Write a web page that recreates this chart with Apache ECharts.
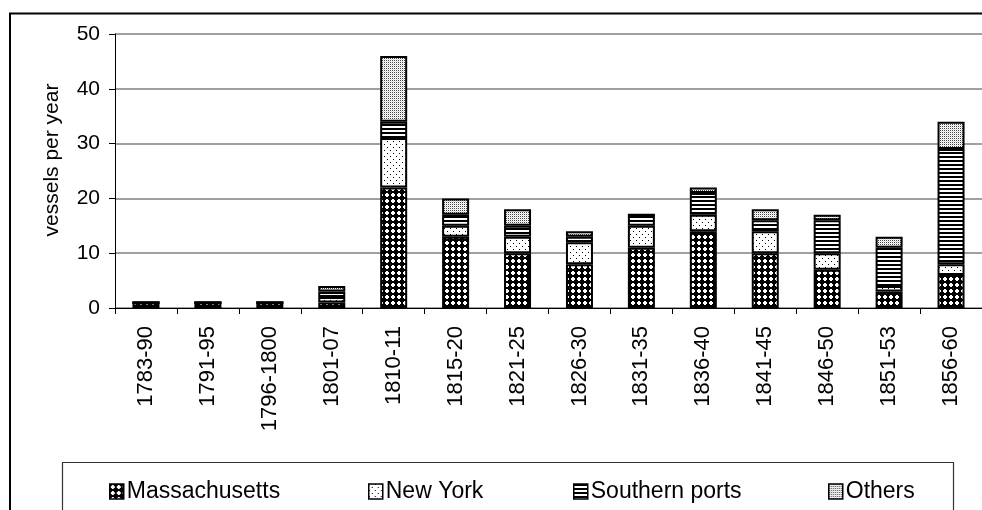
<!DOCTYPE html>
<html>
<head>
<meta charset="utf-8">
<script src="https://cdn.jsdelivr.net/npm/echarts@6/dist/echarts.min.js"></script>
<style>
  html, body { margin: 0; padding: 0; background: #fff; }
  #chart { width: 982px; height: 510px; }
</style>
</head>
<body>
<div id="chart"></div>
<script>
// Vessels per year by home port, grouped by period
const periods = ['1783-90', '1791-95', '1796-1800', '1801-07', '1810-11', '1815-20', '1821-25',
                 '1826-30', '1831-35', '1836-40', '1841-45', '1846-50', '1851-53', '1856-60'];
const massachusetts = [1, 1, 1, 1, 22, 13, 10, 8, 11, 14, 10, 7, 3, 6];
const newYork       = [0, 0, 0, 1, 9, 2, 3, 4, 4, 3, 4, 3, 1, 2];
const southernPorts = [0, 0, 0, 1, 3, 2, 2, 1, 2, 4, 2, 6, 7, 21];
const others        = [0, 0, 0, 1, 12, 3, 3, 1, 0, 1, 2, 1, 2, 5];
const seriesNames = ['Massachusetts', 'New York', 'Southern ports', 'Others'];
const yTicks = [0, 10, 20, 30, 40, 50];

const FONT = 'Liberation Sans, Arial, sans-serif';

// Small repeating canvas tiles used as monochrome hatch fills
function tile(w, h, draw) {
  const c = document.createElement('canvas');
  c.width = w; c.height = h;
  const g = c.getContext('2d');
  g.fillStyle = '#fff';
  g.fillRect(0, 0, w, h);
  draw(g);
  return { image: c, repeat: 'repeat' };
}
const fills = [
  // dark lattice with white spots
  tile(6, 6, g => {
    g.fillStyle = '#000'; g.fillRect(0, 0, 6, 6);
    g.fillStyle = '#fff'; g.fillRect(2, 1, 2, 4); g.fillRect(1, 2, 4, 2);
  }),
  // sparse dots
  tile(6, 6, g => {
    g.fillStyle = '#000'; g.fillRect(0, 0, 1, 1); g.fillRect(3, 3, 1, 1);
  }),
  // horizontal stripes
  tile(4, 4, g => {
    g.fillStyle = '#000'; g.fillRect(0, 0, 4, 2);
  }),
  // fine light-grey stipple
  tile(2, 2, g => {
    g.fillStyle = '#444'; g.fillRect(0, 0, 1, 1);
    g.fillStyle = '#ddd'; g.fillRect(1, 1, 1, 1);
  })
];

const values = [massachusetts, newYork, southernPorts, others];
const legendLeft = [104, 363, 568, 823];

const chart = echarts.init(document.getElementById('chart'), null, { renderer: 'canvas' });
chart.setOption({
  animation: false,
  backgroundColor: '#fff',
  grid: { left: 115, top: 34, width: 882, height: 274, containLabel: false },
  xAxis: {
    type: 'category',
    data: periods,
    axisLine: { lineStyle: { color: '#000', width: 1 } },
    axisTick: { show: true, length: 6, lineStyle: { color: '#000' } },
    axisLabel: { interval: 0, rotate: 90, margin: 18, fontSize: 22, fontFamily: FONT, color: '#000' }
  },
  yAxis: {
    type: 'value',
    min: yTicks[0],
    max: yTicks[yTicks.length - 1],
    interval: 10,
    axisLine: { show: true, lineStyle: { color: '#000', width: 1 } },
    axisTick: { show: true, length: 6, lineStyle: { color: '#000' } },
    axisLabel: { margin: 15, fontSize: 21, fontFamily: FONT, color: '#000' },
    splitLine: { lineStyle: { color: '#808080', width: 1.5 } }
  },
  legend: seriesNames.map((n, i) => ({
    data: [n],
    left: legendLeft[i],
    top: 474,
    icon: 'rect',
    itemWidth: 14,
    itemHeight: 15,
    selectedMode: false,
    itemStyle: { borderColor: '#000', borderWidth: 1.5 },
    textStyle: { fontSize: 23, fontFamily: FONT, color: '#000', lineHeight: 25, padding: [0, 0, 0, -2] }
  })),
  graphic: [
    { type: 'rect', silent: true, z: -1,
      shape: { x: 10, y: 13.5, width: 1200, height: 700 },
      style: { fill: null, stroke: '#000', lineWidth: 2 } },
    { type: 'rect', silent: true,
      shape: { x: 62.5, y: 462.5, width: 891, height: 100 },
      style: { fill: null, stroke: '#333', lineWidth: 1.2 } },
    { type: 'text', silent: true, x: 52, y: 160, rotation: Math.PI / 2,
      style: { text: 'vessels per year', font: '21px ' + FONT, fill: '#000',
               align: 'center', verticalAlign: 'middle' } }
  ],
  series: seriesNames.map((n, i) => ({
    name: n,
    type: 'bar',
    stack: 'total',
    barWidth: 27,
    data: values[i],
    itemStyle: { color: fills[i], borderColor: '#000', borderWidth: 2 },
    emphasis: { disabled: true }
  }))
});
</script>
</body>
</html>
